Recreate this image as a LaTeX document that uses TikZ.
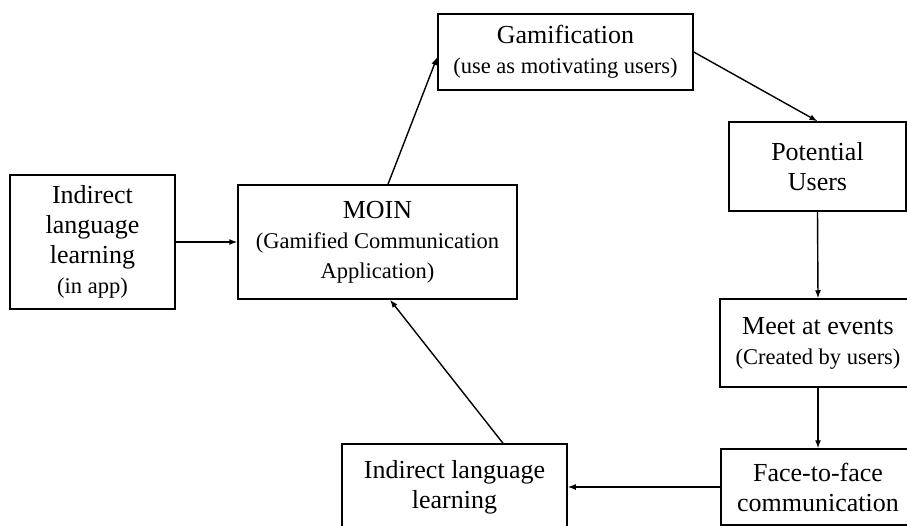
\documentclass[tikz,border=0pt]{standalone}
\usepackage{fontspec}
\setmainfont{Liberation Serif}
\usetikzlibrary{arrows.meta}

\begin{document}
\begin{tikzpicture}[x=1pt, y=1pt,
  box/.style={draw, line width=1.5pt, align=center, inner sep=0,
              font=\fontsize{26}{30}\selectfont},
  arr/.style={-{Latex[length=8pt, width=6pt]}, line width=1.4pt}]
\newcommand{\smalltxt}[1]{{\fontsize{22.5}{28}\selectfont #1}}
\clip (0,0) rectangle (907,-525);
% boxes
\node[box, minimum width=165pt, minimum height=134pt] (inapp) at (92.5,-242)
  {Indirect\\language\\learning\\\smalltxt{(in app)}};
\node[box, minimum width=279pt, minimum height=114pt] (moin) at (377.5,-242)
  {MOIN\\\smalltxt{(Gamified Communication}\\\smalltxt{Application)}};
\node[box, minimum width=255pt, minimum height=76pt] (gamif) at (565.5,-52)
  {Gamification\\\smalltxt{(use as motivating users)}};
\node[box, minimum width=177pt, minimum height=89pt] (potential) at (817.5,-166.5)
  {Potential\\Users};
\node[box, minimum width=196pt, minimum height=88pt] (meet) at (818,-343)
  {Meet at events\\\smalltxt{(Created by users)}};
\node[box, minimum width=194pt, minimum height=76pt] (face) at (818,-487)
  {Face-to-face\\communication};
\node[box, minimum width=225pt, minimum height=86pt] (indirect) at (454.5,-487)
  {Indirect language\\learning};
% arrows
\draw[arr] (inapp.east) -- (moin.west);
\draw[arr] ([xshift=10.5pt]moin.north) -- ([yshift=-5pt]gamif.west);
\draw[arr] (gamif.east) -- (potential.north);
\draw[arr] (potential.south) -- (meet.north);
\draw[arr] (meet.south) -- (face.north);
\draw[arr] (face.west) -- (indirect.east);
\draw[arr] ([xshift=48.5pt]indirect.north) -- ([xshift=12.5pt]moin.south);
\end{tikzpicture}
\end{document}
